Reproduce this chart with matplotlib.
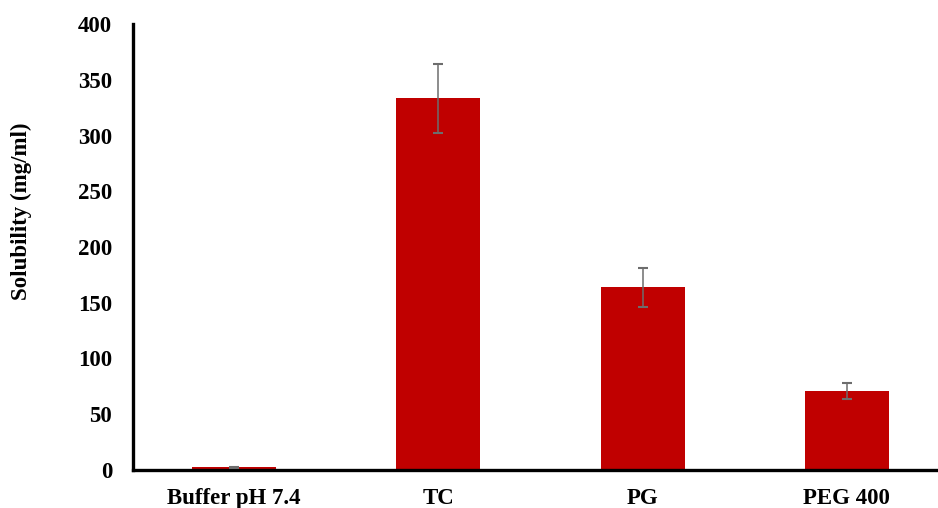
import matplotlib
matplotlib.use("Agg")
import matplotlib.pyplot as plt

categories = ["Buffer pH 7.4", "TC", "PG", "PEG 400"]
solubility = [2.5, 333.5, 164.0, 71.0]
errors = [0.5, 31.0, 17.5, 7.0]
yticks = [0, 50, 100, 150, 200, 250, 300, 350, 400]

plt.rcParams['font.family'] = ['Liberation Serif', 'DejaVu Serif']

fig = plt.figure(figsize=(9.38, 5.08), dpi=100)
ax = fig.add_axes([133/938, 1-470/508, 805/938, (470-24)/508])

x = list(range(len(categories)))
ax.bar(x, solubility, width=0.41, color="#C00000", zorder=2)
ax.errorbar(x, solubility, yerr=errors, fmt="none", ecolor="#6d6d6d",
            elinewidth=1.1, capsize=3.5, capthick=1.5, zorder=3)

ax.set_xlim(-0.495, 3.446)
ax.set_ylim(0, 400)
ax.set_yticks(yticks)
ax.set_yticklabels([str(t) for t in yticks], fontsize=16.5, fontweight="bold")
ax.set_xticks(x)
ax.set_xticklabels(categories, fontsize=16.5, fontweight="bold")
ax.tick_params(axis="both", length=0)
ax.tick_params(axis="y", pad=15)
ax.tick_params(axis="x", pad=13)

for s in ["top", "right"]:
    ax.spines[s].set_visible(False)
for s in ["left", "bottom"]:
    ax.spines[s].set_linewidth(2.4)
    ax.spines[s].set_color("black")

fig.text(21/938, 1-211/508, "Solubility (mg/ml)", fontsize=16.5, fontweight="bold",
         rotation=90, ha="center", va="center")

fig.savefig("out.png", dpi=100)
